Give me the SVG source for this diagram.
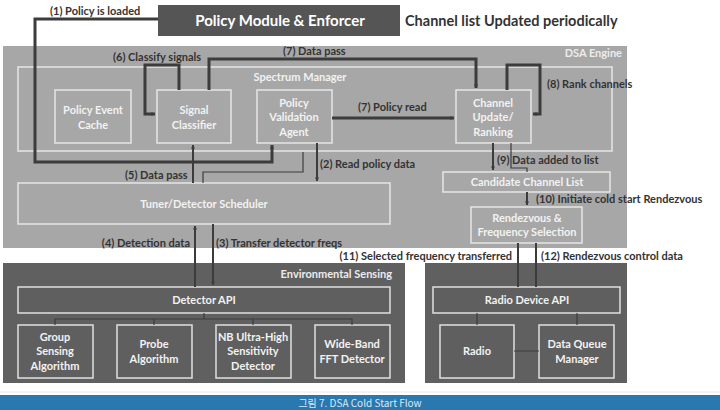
<svg xmlns="http://www.w3.org/2000/svg" width="720" height="410" viewBox="0 0 720 410">
<defs>
<style>
.lbl{font-family:Lato,"Open Sans",sans-serif;font-weight:bold;font-size:11px;fill:#333}
.nt{font-family:Lato,"Open Sans",sans-serif;font-weight:bold;font-size:11px;fill:#f2f2f2;text-anchor:middle}
.lb{fill:none;stroke:#e6e6e6;stroke-width:1.5}
.db{fill:#5f5f5f;stroke:#e0e0e0;stroke-width:1.5}
.c{fill:none;stroke:#3c3c3c;stroke-width:3}
.c2{fill:none;stroke:#3c3c3c;stroke-width:2}
.t{fill:none;stroke:#3c3c3c;stroke-width:1.2}
</style>
<marker id="a" viewBox="0 0 10 10" refX="9" refY="5" markerWidth="4" markerHeight="4" orient="auto" markerUnits="userSpaceOnUse"><path d="M0,0L10,5L0,10z" fill="#3c3c3c"/></marker>
</defs>
<rect width="720" height="410" fill="#fff"/>

<g id="dsa-engine">
<rect x="3" y="46" width="624" height="202" fill="#a7a7a7"/>
<text x="622" y="57" text-anchor="end" font-family="Lato,sans-serif" font-weight="bold" font-size="11" fill="#ececec">DSA Engine</text>
</g>
<g id="spectrum-manager">
<rect x="18" y="67" width="594" height="84" class="lb"/>
<text x="300" y="81" class="nt">Spectrum Manager</text>
</g>
<g id="policy-module">
<rect x="158" y="5" width="242" height="31" fill="#555"/>
<text x="280" y="26" text-anchor="middle" font-family="Lato,sans-serif" font-weight="bold" font-size="15" fill="#fff">Policy Module &amp; Enforcer</text>
</g>
<text x="405" y="26" font-family="Lato,sans-serif" font-weight="bold" font-size="14.5" fill="#333">Channel list Updated periodically</text>

<g id="policy-event-cache"><rect x="55" y="90" width="76" height="53" class="lb"/><text x="93" y="114" class="nt">Policy Event</text><text x="93" y="129" class="nt">Cache</text></g>
<g id="signal-classifier"><rect x="157" y="90" width="74" height="53" class="lb"/><text x="194" y="114" class="nt">Signal</text><text x="194" y="129" class="nt">Classifier</text></g>
<g id="policy-validation-agent"><rect x="257" y="90" width="75" height="53" class="lb"/><text x="294" y="107" class="nt">Policy</text><text x="294" y="121" class="nt">Validation</text><text x="294" y="136" class="nt">Agent</text></g>
<g id="channel-update"><rect x="456" y="90" width="75" height="53" class="lb"/><text x="493" y="107" class="nt">Channel</text><text x="493" y="121" class="nt">Update/</text><text x="493" y="136" class="nt">Ranking</text></g>
<g id="tuner-scheduler"><rect x="18" y="183" width="372" height="41" class="lb"/><text x="204" y="208" class="nt">Tuner/Detector Scheduler</text></g>
<g id="candidate-list"><rect x="443" y="172" width="167" height="20" class="lb"/><text x="527" y="186" class="nt">Candidate Channel List</text></g>
<g id="rendezvous"><rect x="471" y="207" width="111" height="36" class="lb"/><text x="527" y="222" class="nt">Rendezvous &amp;</text><text x="527" y="236" class="nt">Frequency Selection</text></g>

<g id="environmental-sensing">
<rect x="3" y="263" width="402" height="120" fill="#606060"/>
<text x="392" y="278" text-anchor="end" font-family="Lato,sans-serif" font-weight="bold" font-size="11" fill="#ececec">Environmental Sensing</text>
</g>
<g id="detector-api"><rect x="18" y="287" width="372" height="26" class="db"/><text x="204" y="304" class="nt">Detector API</text></g>
<g id="group-sensing"><rect x="18" y="325" width="75" height="53" class="db"/><text x="55" y="341" class="nt">Group</text><text x="55" y="355" class="nt">Sensing</text><text x="55" y="370" class="nt">Algorithm</text></g>
<g id="probe"><rect x="117" y="325" width="75" height="53" class="db"/><text x="154" y="348" class="nt">Probe</text><text x="154" y="363" class="nt">Algorithm</text></g>
<g id="nb-detector"><rect x="216" y="325" width="75" height="53" class="db"/><text x="253" y="341" class="nt">NB Ultra-High</text><text x="253" y="355" class="nt">Sensitivity</text><text x="253" y="370" class="nt">Detector</text></g>
<g id="wideband"><rect x="315" y="325" width="75" height="53" class="db"/><text x="352" y="348" class="nt">Wide-Band</text><text x="352" y="363" class="nt">FFT Detector</text></g>

<g id="radio-block">
<rect x="425" y="263" width="202" height="120" fill="#606060"/>
</g>
<g id="radio-device-api"><rect x="433" y="287" width="187" height="26" class="db"/><text x="527" y="304" class="nt">Radio Device API</text></g>
<g id="radio"><rect x="440" y="325" width="74" height="53" class="db"/><text x="477" y="355" class="nt">Radio</text></g>
<g id="data-queue"><rect x="539" y="325" width="75" height="53" class="db"/><text x="577" y="348" class="nt">Data Queue</text><text x="577" y="363" class="nt">Manager</text></g>

<g id="connectors">
<path class="c" d="M158,19H35V162H272V145" marker-end="url(#a)"/>
<path class="c" d="M179,90V65H145V114H155" marker-end="url(#a)"/>
<path class="c" d="M209,90V59H476V88" marker-end="url(#a)"/>
<path class="c" d="M507,90V65H540V114H533" marker-end="url(#a)"/>
<path class="c" d="M332,118H454" marker-end="url(#a)"/>
<path class="c2" d="M193,183V145" marker-end="url(#a)"/>
<path class="t" d="M203,183V172H303V152"/>
<path class="c2" d="M317,143V181" marker-end="url(#a)"/>
<path class="c2" d="M493,143V170" marker-end="url(#a)"/>
<path class="t" d="M511,143V168H527V172"/>
<path class="c2" d="M527,192V205" marker-end="url(#a)"/>
<path class="c2" d="M195,287V226" marker-end="url(#a)"/>
<path class="c2" d="M213,224V285" marker-end="url(#a)"/>
<path class="c2" d="M518,243V287"/>
<path class="c2" d="M536,243V287"/>
<path class="t" d="M55,325V319H352V325M154,319V325M253,319V325M204,313V319"/>
<path class="t" d="M477,313V325M577,313V325M514,351H539"/>
</g>

<g id="labels">
<text x="50" y="15" class="lbl">(1) Policy is loaded</text>
<text x="113" y="61" class="lbl">(6) Classify signals</text>
<text x="283" y="55" class="lbl">(7) Data pass</text>
<text x="547" y="88" class="lbl">(8) Rank channels</text>
<text x="358" y="111" class="lbl">(7) Policy read</text>
<text x="125" y="179" class="lbl">(5) Data pass</text>
<text x="320" y="168" class="lbl">(2) Read policy data</text>
<text x="497" y="164" class="lbl">(9) Data added to list</text>
<text x="536" y="203" class="lbl">(10) Initiate cold start Rendezvous</text>
<text x="190" y="247" class="lbl" text-anchor="end">(4) Detection data</text>
<text x="216" y="247" class="lbl">(3) Transfer detector freqs</text>
<text x="512" y="260" class="lbl" text-anchor="end">(11) Selected frequency transferred</text>
<text x="541" y="260" class="lbl">(12) Rendezvous control data</text>
</g>

<g id="caption">
<line x1="0" y1="392" x2="720" y2="392" stroke="#e8e8e8" stroke-width="1"/>
<rect x="0" y="395" width="720" height="15" fill="#2a78b0"/>
<text x="360" y="407" text-anchor="middle" font-family="'Noto Sans CJK KR',sans-serif" font-size="10" fill="#dde8f2">그림 7. DSA Cold Start Flow</text>
</g>
</svg>
